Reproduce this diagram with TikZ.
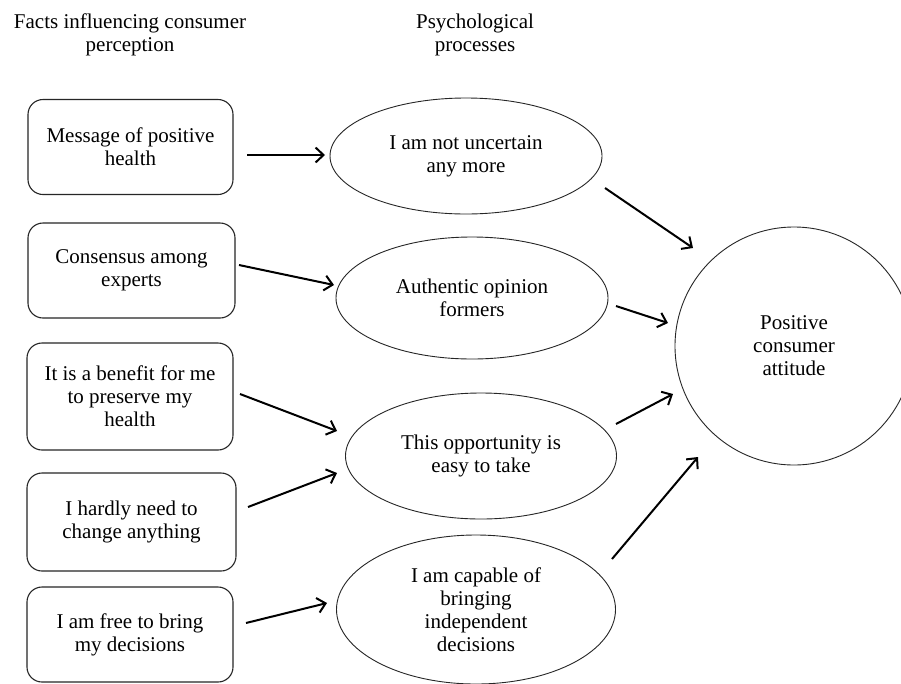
\documentclass[tikz,border=0pt]{standalone}
\usepackage{fontspec}
\setmainfont{Liberation Serif}
\usetikzlibrary{arrows.meta,shapes.geometric}
\begin{document}
\begin{tikzpicture}[x=1pt,y=-1pt,
  txt/.style={font=\fontsize{21}{23}\selectfont, align=center, inner sep=0pt, text=black},
  fact/.style={txt, draw=black!85, rectangle, rounded corners=15pt, line width=1.1pt},
  proc/.style={txt, draw=black!85, ellipse, line width=0.9pt},
  arr/.style={line width=2pt, -{Straight Barb[length=8pt,width=15pt]}}]
\useasboundingbox (0,0) rectangle (901,683);
\clip (0,0) rectangle (901,683);
\fill[white] (0,0) rectangle (901,683);

% titles
\node[txt] (t1) at (130,34.5) {Facts influencing consumer\\perception};
\node[txt] (t2) at (475,34.5) {Psychological\\processes};

% fact boxes
\node[fact, minimum width=205, minimum height=95] (b1) at (130.5,147) {Message of positive\\health};
\node[fact, minimum width=207, minimum height=95] (b2) at (131.5,270.5) {Consensus among\\experts};
\node[fact, minimum width=206, minimum height=107] (b3) at (130,396.5) {It is a benefit for me\\to preserve my\\health};
\node[fact, minimum width=209, minimum height=98] (b4) at (131.5,522) {I hardly need to\\change anything};
\node[fact, minimum width=206, minimum height=95] (b5) at (130,634.5) {I am free to bring\\my decisions};

% process ellipses
\node[proc, minimum width=272, minimum height=116] (e1) at (466,156) {I am not uncertain\\any more};
\node[proc, minimum width=272, minimum height=122] (e2) at (472,298) {Authentic opinion\\formers};
\node[proc, minimum width=271, minimum height=126] (e3) at (481,456) {This opportunity is\\easy to take};
\node[proc, minimum width=279, minimum height=149] (e4) at (476,609.5) {I am capable of\\bringing\\independent\\decisions};

% outcome circle
\node[txt, draw=black!85, circle, line width=0.9pt, minimum size=238] (c) at (794,346) {Positive\\consumer\\attitude};

% connector end points
\coordinate (a1s) at (247,155); \coordinate (a1e) at (325,155);
\coordinate (a2s) at (239,265); \coordinate (a2e) at (334,285);
\coordinate (a3s) at (240,394); \coordinate (a3e) at (337,431);
\coordinate (a4s) at (248,507); \coordinate (a4e) at (337,473);
\coordinate (a5s) at (246,623); \coordinate (a5e) at (327,603);
\coordinate (c1s) at (605,188); \coordinate (c1e) at (693,248);
\coordinate (c2s) at (616,306); \coordinate (c2e) at (668,323);
\coordinate (c3s) at (616,424); \coordinate (c3e) at (673,394);
\coordinate (c4s) at (612,559); \coordinate (c4e) at (698,457);

\draw[arr] (a1s) -- (a1e);
\draw[arr] (a2s) -- (a2e);
\draw[arr] (a3s) -- (a3e);
\draw[arr] (a4s) -- (a4e);
\draw[arr] (a5s) -- (a5e);
\draw[arr] (c1s) -- (c1e);
\draw[arr] (c2s) -- (c2e);
\draw[arr] (c3s) -- (c3e);
\draw[arr] (c4s) -- (c4e);
\end{tikzpicture}
\end{document}
